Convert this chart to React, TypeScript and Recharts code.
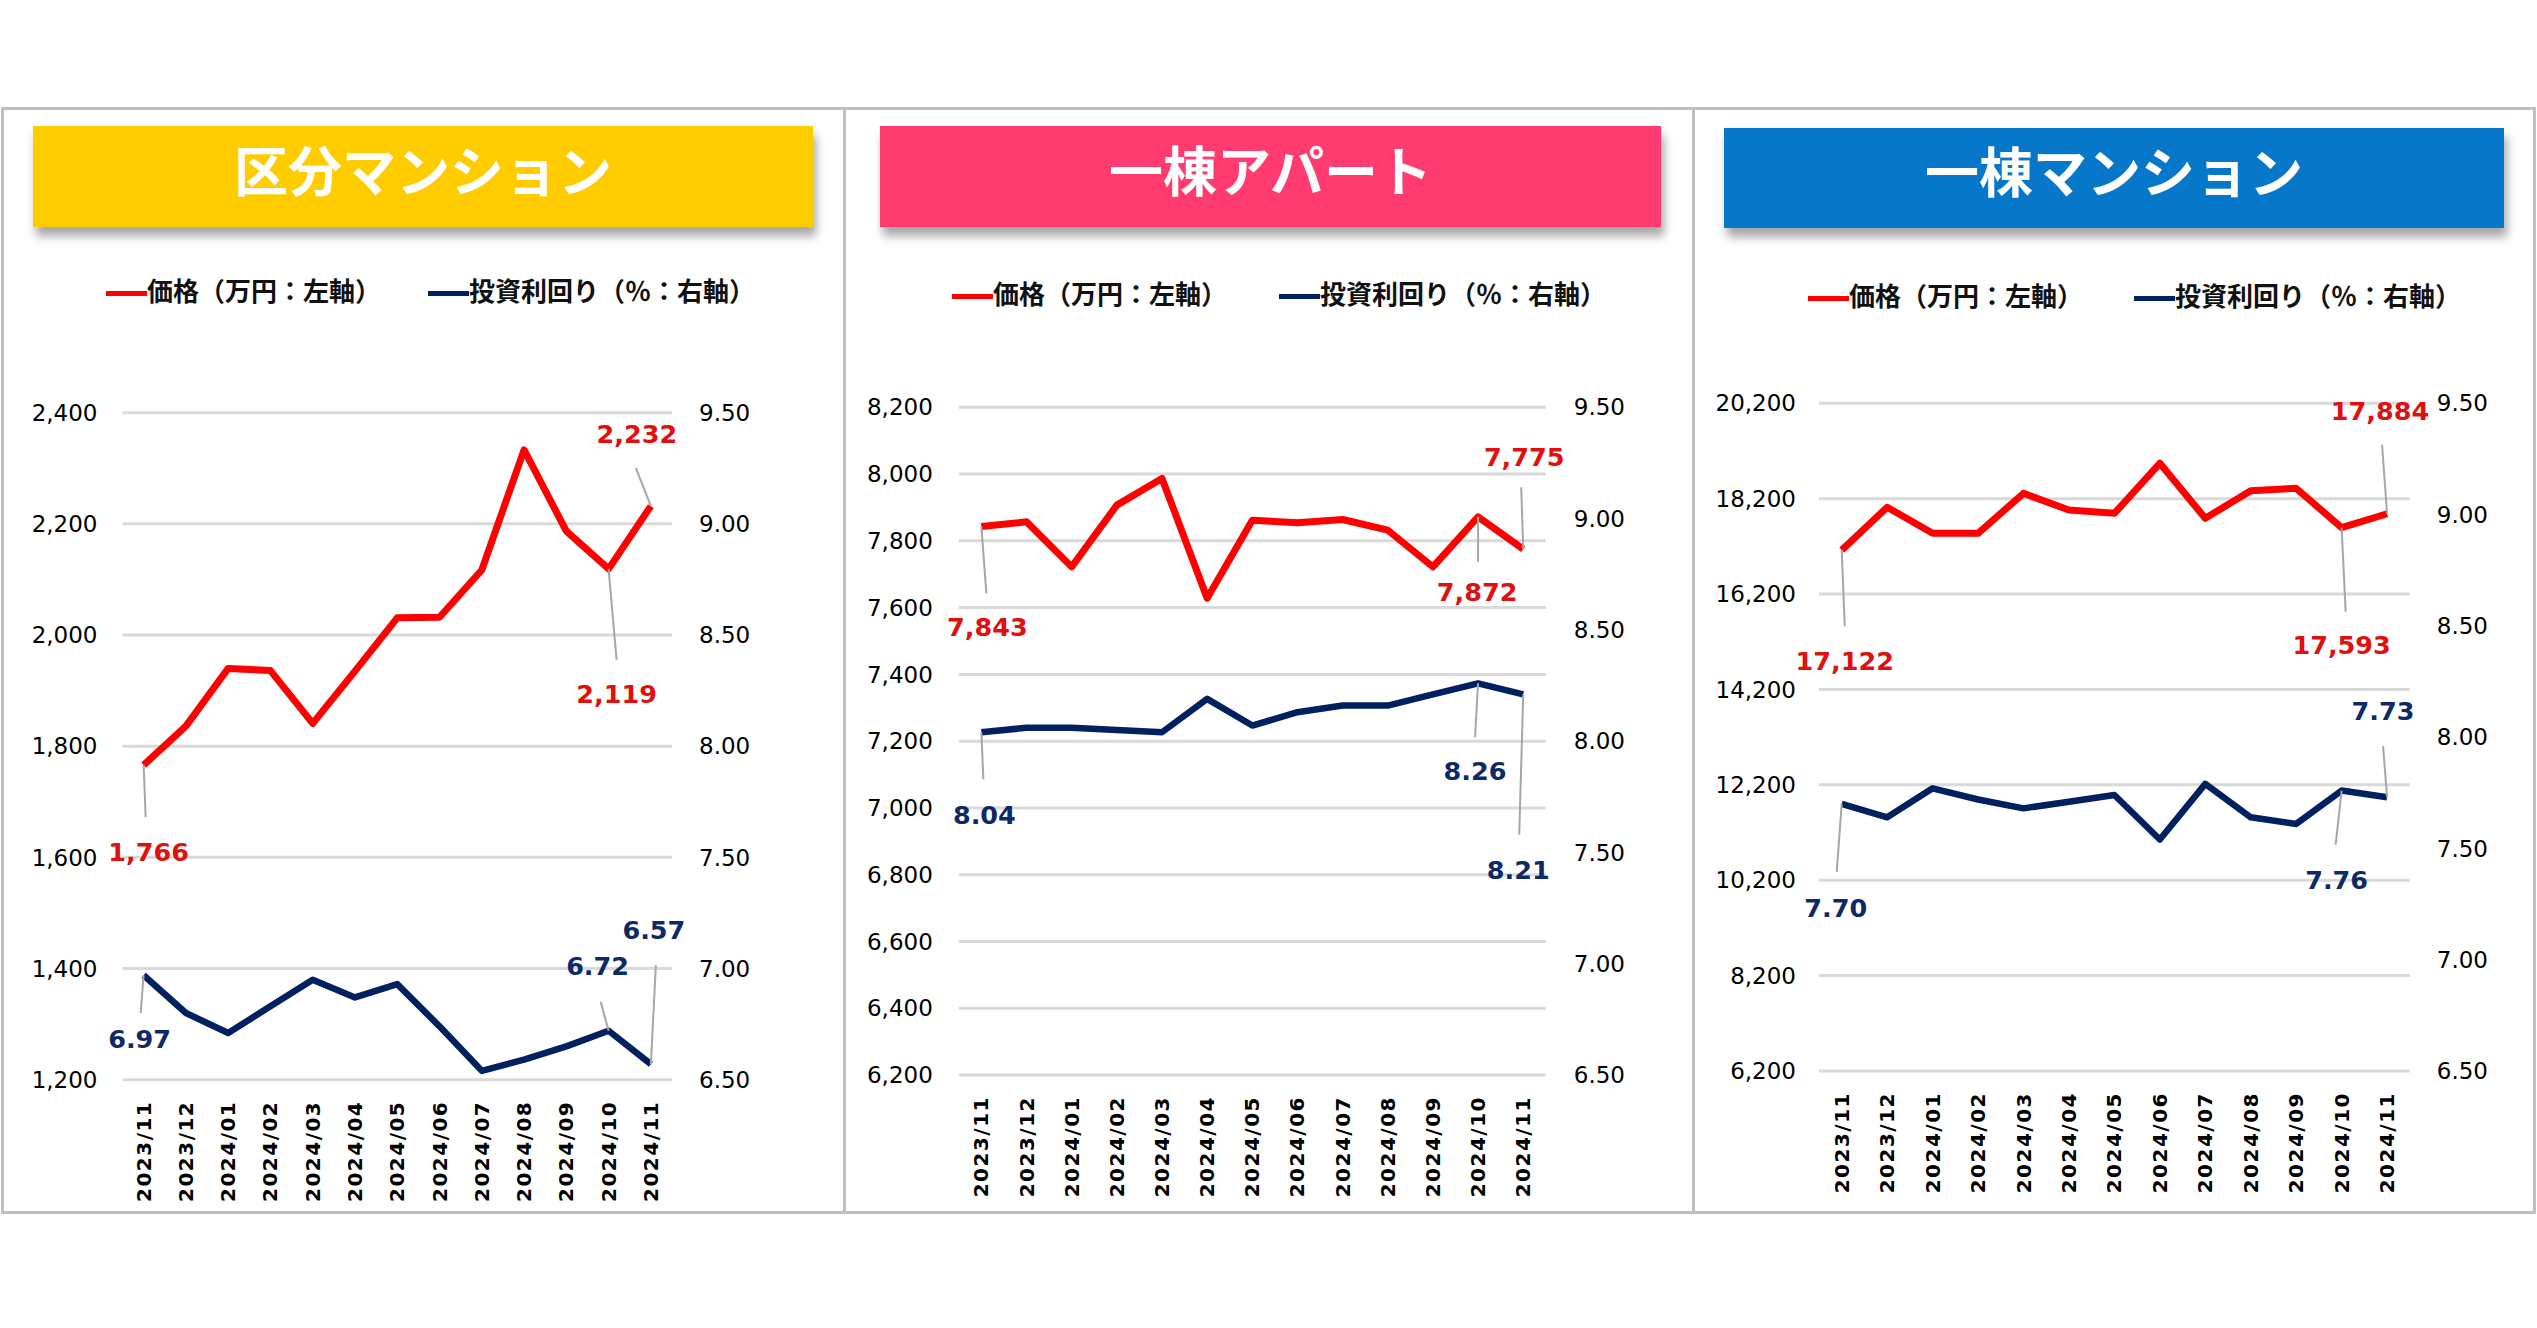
import React from 'react';
import { LineChart, Line, XAxis, YAxis, CartesianGrid, LabelList } from 'recharts';

// ---------- data ----------
const months = [
  '2023/11', '2023/12', '2024/01', '2024/02', '2024/03', '2024/04', '2024/05',
  '2024/06', '2024/07', '2024/08', '2024/09', '2024/10', '2024/11',
];

const kubunPrice = [1766, 1836, 1940, 1936, 1841, 1935, 2031, 2032, 2117, 2333, 2187, 2119, 2232];
const kubunYield = [6.97, 6.8, 6.71, 6.83, 6.95, 6.87, 6.93, 6.74, 6.54, 6.59, 6.65, 6.72, 6.57];

const apartPrice = [7843, 7857, 7722, 7907, 7987, 7628, 7862, 7854, 7864, 7832, 7722, 7872, 7775];
const apartYield = [8.04, 8.06, 8.06, 8.05, 8.04, 8.19, 8.07, 8.13, 8.16, 8.16, 8.21, 8.26, 8.21];

const ittoPrice = [17122, 18020, 17474, 17474, 18313, 17963, 17893, 18942, 17789, 18368, 18418, 17593, 17884];
const ittoYield = [7.7, 7.64, 7.77, 7.72, 7.68, 7.71, 7.74, 7.54, 7.79, 7.64, 7.61, 7.76, 7.73];

const kubunPriceTicks = [1200, 1400, 1600, 1800, 2000, 2200, 2400];
const apartPriceTicks = [6200, 6400, 6600, 6800, 7000, 7200, 7400, 7600, 7800, 8000, 8200];
const ittoPriceTicks = [6200, 8200, 10200, 12200, 14200, 16200, 18200, 20200];
const yieldTicks = [6.5, 7.0, 7.5, 8.0, 8.5, 9.0, 9.5];

const titles = ['区分マンション', '一棟アパート', '一棟マンション'];
const legendPrice = '価格（万円：左軸）';
const legendYield = '投資利回り（％：右軸）';

// ---------- styles / layout ----------
const RED = '#FF0000';
const NAVY = '#002060';
const RED_LABEL = '#E01010';
const NAVY_LABEL = '#0E2A66';
const GRID = '#D9D9D9';
const LEADER = '#A6A6A6';
const CHART_TOP = 340;
const CHART_BOTTOM = 1205;

type Callout = { lx: number; ly: number; tx: number; ty: number };

const panels = [
  {
    title: titles[0],
    bannerColor: '#FFCC00',
    banner: { left: 33, top: 126, width: 780, height: 101 },
    legend: { y: 290, x1: 106, x2: 428 },
    geom: { chartLeft: 4, chartRight: 842, plotLeft: 122.5, plotRight: 672, plotTop: 412.7, plotBottom: 1079.7 },
    price: kubunPrice,
    yld: kubunYield,
    priceTicks: kubunPriceTicks,
    leftGap: 25,
    rightGap: 27,
    priceCallouts: {
      0: { lx: 2, ly: 52, tx: 5, ty: 87 },
      11: { lx: 8, ly: 91, tx: 8, ty: 125 },
      12: { lx: -15, ly: -38, tx: -14, ty: -72 },
    } as Record<number, Callout>,
    yieldCallouts: {
      0: { lx: -3, ly: 38, tx: -4, ty: 64 },
      11: { lx: -8, ly: -29, tx: -11, ty: -65 },
      12: { lx: 5, ly: -99, tx: 3, ty: -134 },
    } as Record<number, Callout>,
  },
  {
    title: titles[1],
    bannerColor: '#FF3B6F',
    banner: { left: 880, top: 126, width: 781, height: 101 },
    legend: { y: 293, x1: 952, x2: 1279 },
    geom: { chartLeft: 848, chartRight: 1691, plotLeft: 958.8, plotRight: 1545.8, plotTop: 407.3, plotBottom: 1075 },
    price: apartPrice,
    yld: apartYield,
    priceTicks: apartPriceTicks,
    leftGap: 26,
    rightGap: 28,
    priceCallouts: {
      0: { lx: 5, ly: 67, tx: 6, ty: 101 },
      11: { lx: 0, ly: 45, tx: -1, ty: 75 },
      12: { lx: -2, ly: -62, tx: 1, ty: -92 },
    } as Record<number, Callout>,
    yieldCallouts: {
      0: { lx: 2, ly: 47, tx: 3, ty: 83 },
      11: { lx: -3, ly: 54, tx: -3, ty: 88 },
      12: { lx: -4, ly: 140, tx: -5, ty: 176 },
    } as Record<number, Callout>,
  },
  {
    title: titles[2],
    bannerColor: '#0777C9',
    banner: { left: 1724, top: 128, width: 780, height: 100 },
    legend: { y: 295, x1: 1808, x2: 2134 },
    geom: { chartLeft: 1697, chartRight: 2533, plotLeft: 1819, plotRight: 2409.8, plotTop: 403.3, plotBottom: 1071 },
    price: ittoPrice,
    yld: ittoYield,
    priceTicks: ittoPriceTicks,
    leftGap: 23,
    rightGap: 27,
    priceCallouts: {
      0: { lx: 3, ly: 76, tx: 3, ty: 111 },
      11: { lx: 4, ly: 84, tx: 0, ty: 117 },
      12: { lx: -5, ly: -69, tx: -7, ty: -103 },
    } as Record<number, Callout>,
    yieldCallouts: {
      0: { lx: -5, ly: 68, tx: -6, ty: 104 },
      11: { lx: -6, ly: 54, tx: -5, ty: 89 },
      12: { lx: -4, ly: -51, tx: -4, ty: -86 },
    } as Record<number, Callout>,
  },
];

const fmtPrice = (v: number) => Number(v).toLocaleString('en-US');
const fmtYield = (v: number) => Number(v).toFixed(2);

const makeCallout =
  (cfg: Record<number, Callout>, color: string, fmt: (v: number) => string) =>
  (props: any) => {
    const idx = props.index;
    const c = cfg[idx];
    if (!c) return null;
    const px = props.x ?? props.viewBox?.x;
    const py = props.y ?? props.viewBox?.y;
    if (px == null || py == null) return null;
    return (
      <g key={`co-${idx}`}>
        <line x1={px} y1={py} x2={px + c.lx} y2={py + c.ly} stroke={LEADER} strokeWidth={2} />
        <text
          x={px + c.tx}
          y={py + c.ty}
          textAnchor="middle"
          dominantBaseline="central"
          fill={color}
          fontSize={25.5}
          fontWeight="bold"
          fontFamily="'DejaVu Sans', sans-serif"
        >
          {fmt(props.value)}
        </text>
      </g>
    );
  };

const XTick = (props: any) => {
  const { x, y, payload } = props;
  return (
    <text
      x={x}
      y={y}
      transform={`rotate(-90 ${x} ${y})`}
      textAnchor="end"
      dominantBaseline="central"
      fill="#000"
      fontSize={20}
      fontWeight="bold"
      letterSpacing={1.5}
      fontFamily="'DejaVu Sans', sans-serif"
    >
      {payload.value}
    </text>
  );
};

const tickStyle = { fill: '#000', fontSize: 23, fontFamily: "'DejaVu Sans', sans-serif" };

function Panel({ p }: { p: (typeof panels)[number] }) {
  const g = p.geom;
  const rows = months.map((m, i) => ({ month: m, price: p.price[i], yld: p.yld[i] }));
  const width = g.chartRight - g.chartLeft;
  const height = CHART_BOTTOM - CHART_TOP;
  const pmin = p.priceTicks[0];
  const pmax = p.priceTicks[p.priceTicks.length - 1];
  const halfBand = (g.plotRight - g.plotLeft) / months.length / 2;
  return (
    <div style={{ position: 'absolute', left: g.chartLeft, top: CHART_TOP, width, height }}>
      <LineChart
        width={width}
        height={height}
        data={rows}
        margin={{ top: g.plotTop - CHART_TOP, right: 0, bottom: 0, left: 0 }}
      >
        <CartesianGrid yAxisId="left" vertical={false} stroke={GRID} strokeWidth={3} />
        <XAxis
          dataKey="month"
          interval={0}
          padding={{ left: halfBand, right: halfBand }}
          tickLine={false}
          axisLine={false}
          tickSize={0}
          tickMargin={21}
          height={CHART_BOTTOM - g.plotBottom}
          tick={<XTick />}
        />
        <YAxis
          yAxisId="left"
          orientation="left"
          domain={[pmin, pmax]}
          ticks={p.priceTicks}
          interval={0}
          allowDataOverflow
          width={g.plotLeft - g.chartLeft}
          tickLine={false}
          axisLine={false}
          tickSize={0}
          tickMargin={p.leftGap}
          tick={tickStyle}
          tickFormatter={fmtPrice}
        />
        <YAxis
          yAxisId="right"
          orientation="right"
          domain={[6.5, 9.5]}
          ticks={yieldTicks}
          interval={0}
          width={g.chartRight - g.plotRight}
          tickLine={false}
          axisLine={false}
          tickSize={0}
          tickMargin={p.rightGap}
          tick={tickStyle}
          tickFormatter={fmtYield}
        />
        <Line
          yAxisId="left"
          type="linear"
          dataKey="price"
          stroke={RED}
          strokeWidth={7}
          dot={false}
          activeDot={false}
          isAnimationActive={false}
          strokeLinejoin="round"
        >
          <LabelList dataKey="price" content={makeCallout(p.priceCallouts, RED_LABEL, fmtPrice)} />
        </Line>
        <Line
          yAxisId="right"
          type="linear"
          dataKey="yld"
          stroke={NAVY}
          strokeWidth={6.5}
          dot={false}
          activeDot={false}
          isAnimationActive={false}
          strokeLinejoin="round"
        >
          <LabelList dataKey="yld" content={makeCallout(p.yieldCallouts, NAVY_LABEL, fmtYield)} />
        </Line>
      </LineChart>
    </div>
  );
}

function Banner({ p }: { p: (typeof panels)[number] }) {
  const b = p.banner;
  return (
    <div
      style={{
        position: 'absolute',
        left: b.left,
        top: b.top,
        width: b.width,
        height: b.height,
        background: p.bannerColor,
        boxShadow: '3px 9px 9px rgba(0,0,0,0.35)',
        display: 'flex',
        alignItems: 'center',
        justifyContent: 'center',
        color: '#fff',
        fontFamily: "'Noto Sans CJK JP', sans-serif",
        fontWeight: 'bold',
        fontSize: 54,
        paddingBottom: 16,
        boxSizing: 'border-box',
        lineHeight: 1,
      }}
    >
      {p.title}
    </div>
  );
}

function LegendItem({ x, y, color, text }: { x: number; y: number; color: string; text: string }) {
  return (
    <div
      style={{
        position: 'absolute',
        left: x,
        top: y - 20,
        height: 40,
        display: 'flex',
        alignItems: 'center',
        whiteSpace: 'nowrap',
        fontFamily: "'Noto Sans CJK JP', sans-serif",
        fontWeight: 'bold',
        fontSize: 26,
        color: '#111',
        lineHeight: 1,
      }}
    >
      <span style={{ display: 'inline-block', width: 41, height: 5, background: color, marginTop: 6 }} />
      <span>{text}</span>
    </div>
  );
}

export default function App() {
  return (
    <div style={{ position: 'absolute', left: 0, top: 0, width: 2537, height: 1328, background: '#fff', overflow: 'hidden' }}>
      <div
        style={{
          position: 'absolute',
          left: 1,
          top: 107,
          width: 2535,
          height: 1107,
          border: '3px solid #BFBFBF',
          boxSizing: 'border-box',
        }}
      />
      <div style={{ position: 'absolute', left: 843, top: 107, width: 3, height: 1107, background: '#BFBFBF' }} />
      <div style={{ position: 'absolute', left: 1692, top: 107, width: 3, height: 1107, background: '#BFBFBF' }} />
      {panels.map((p, i) => (
        <React.Fragment key={i}>
          <Banner p={p} />
          <LegendItem x={p.legend.x1} y={p.legend.y} color={RED} text={legendPrice} />
          <LegendItem x={p.legend.x2} y={p.legend.y} color={NAVY} text={legendYield} />
          <Panel p={p} />
        </React.Fragment>
      ))}
    </div>
  );
}
